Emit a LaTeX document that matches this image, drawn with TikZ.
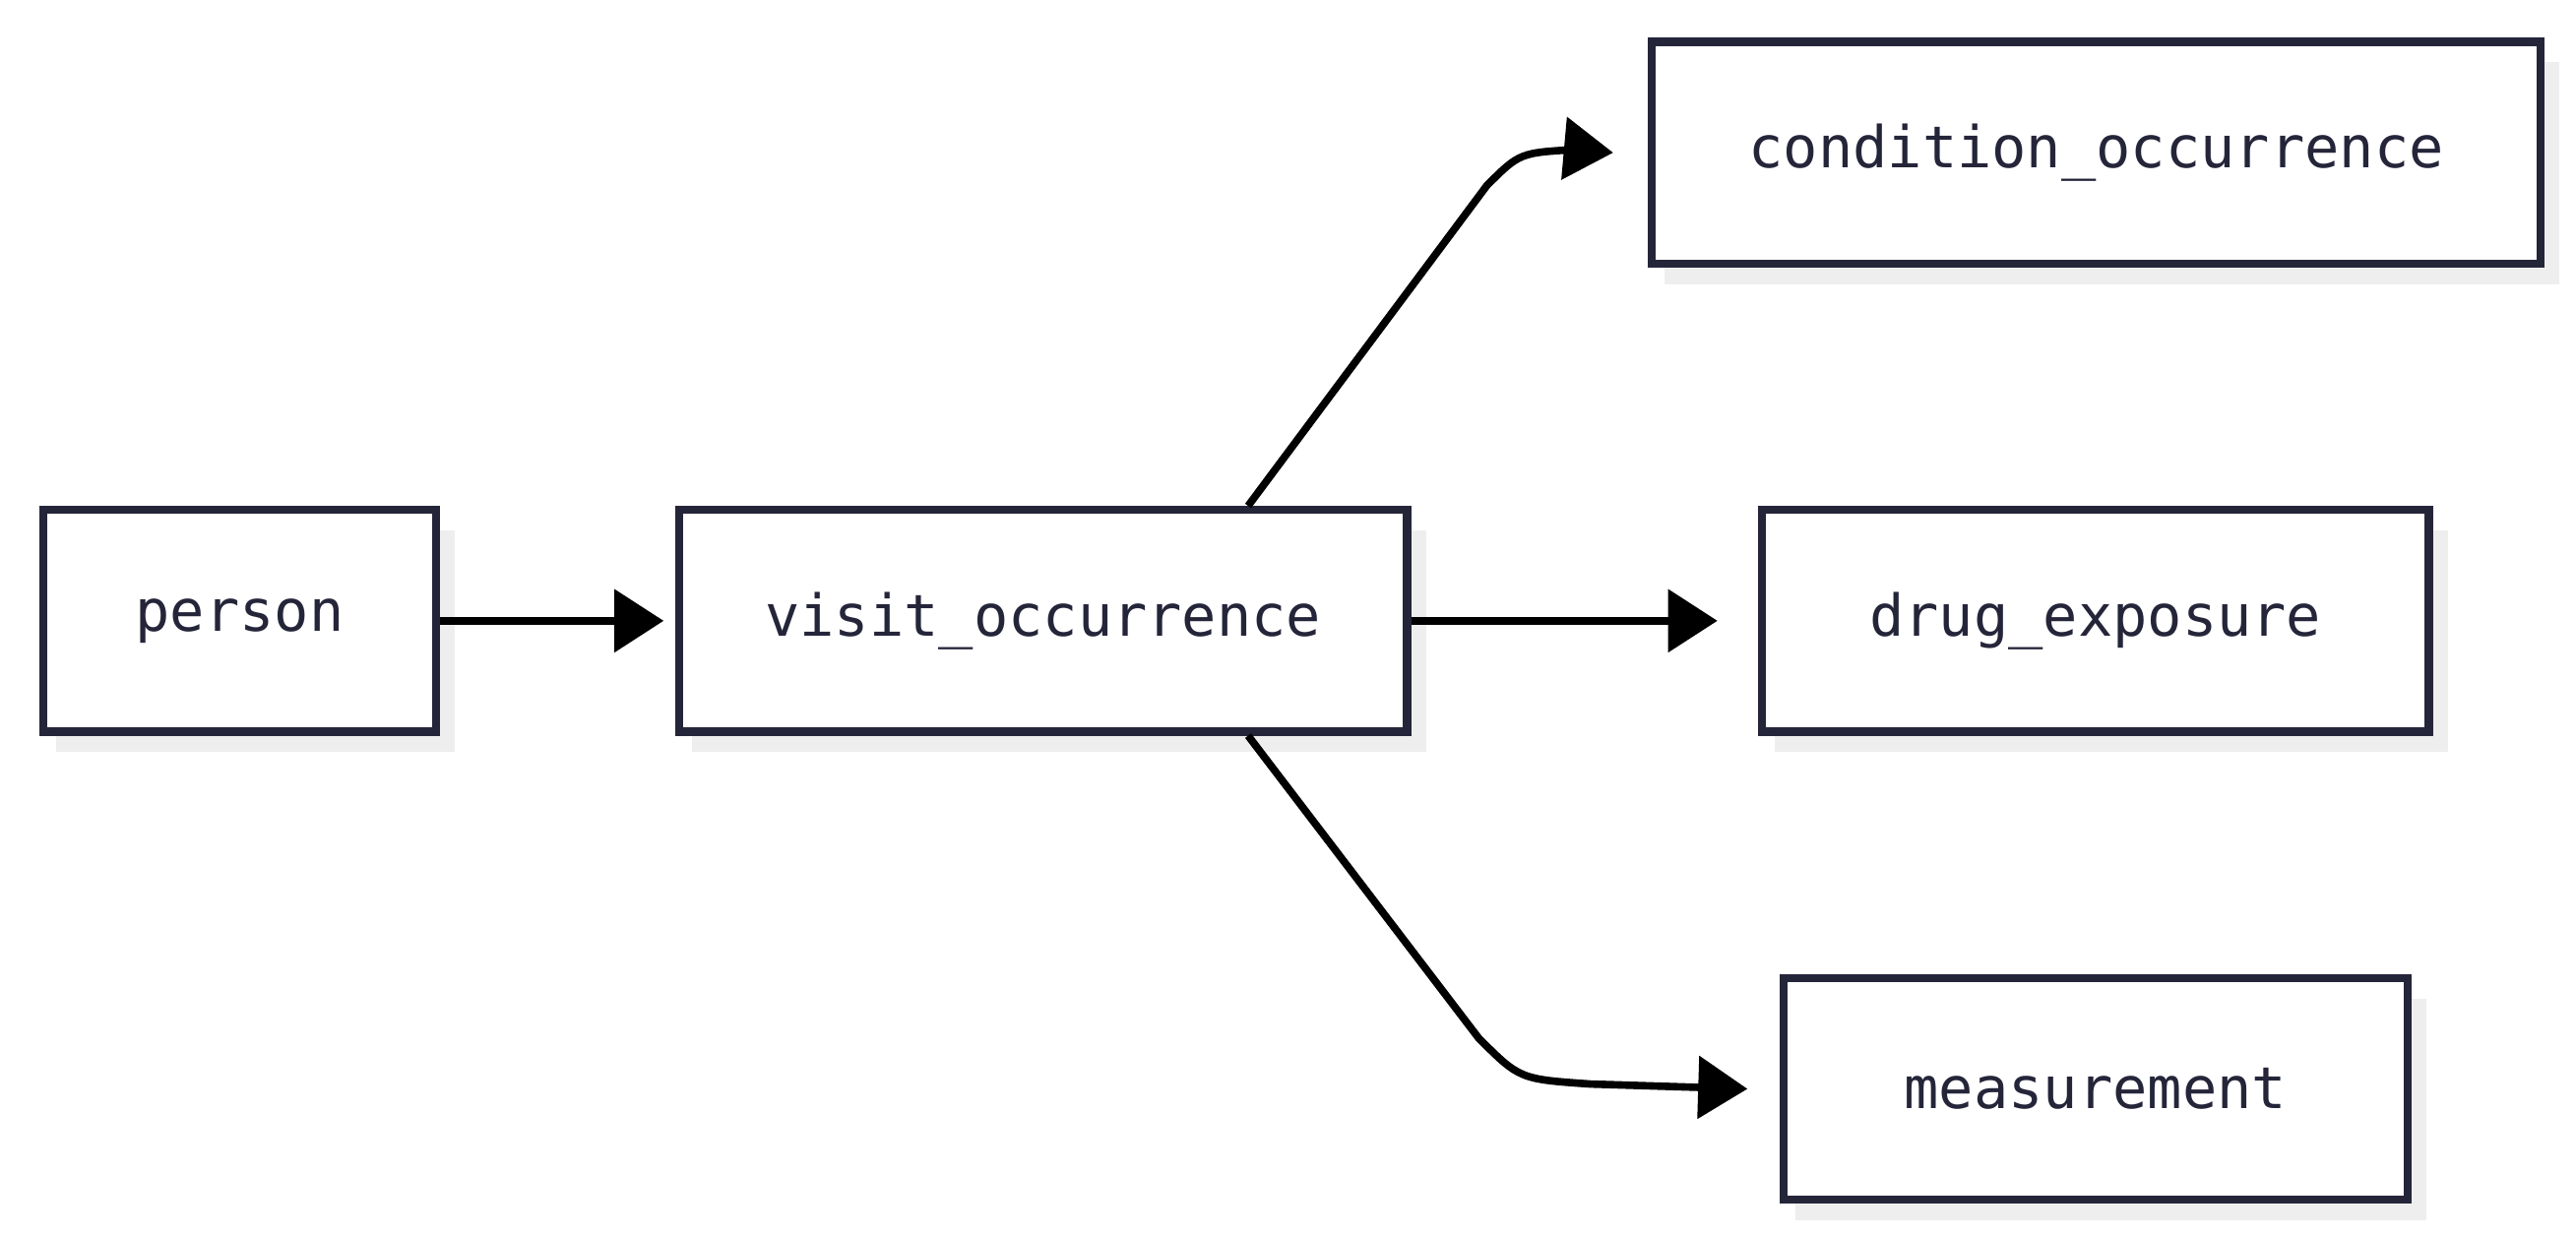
\documentclass[tikz,border=0pt]{standalone}
\usepackage{fontspec}
\setmainfont{DejaVu Sans Mono}
\usetikzlibrary{arrows.meta}
\definecolor{ink}{HTML}{25253A}
\definecolor{shadowgray}{HTML}{EEEEEE}
\begin{document}
\begin{tikzpicture}[x=0.02cm,y=-0.02cm,
  box/.style={draw=ink,line width=2.8pt,fill=white,text=ink,font=\fontsize{20}{24}\selectfont,inner sep=0pt},
  conn/.style={line width=2.6pt,-{Triangle[length=0.6cm,width=0.75cm]}}]
\useasboundingbox (0,0) rectangle (1568,752);
\newcommand{\mybox}[6]{%
  \fill[shadowgray] (#2+10,#3+15) rectangle (#4+14,#5+15);
  \node[box,minimum width={(#4-#2)*0.02cm},minimum height={(#5-#3)*0.02cm},anchor=north west] (#1) at (#2,#3) {#6};}
\mybox{person}{24}{308}{263}{443}{person}
\mybox{visit}{411}{308}{854}{443}{visit\_occurrence}
\mybox{cond}{1003}{23}{1544}{158}{condition\_occurrence}
\mybox{drug}{1070}{308}{1476}{443}{drug\_exposure}
\mybox{meas}{1083}{593}{1463}{728}{measurement}
\draw[conn] (person.east) -- ([xshift=-4]visit.west);
\draw[conn] (visit.east) -- ([xshift=-14]drug.west);
\draw[conn] ([xshift=71]visit.north) -- (905,113) .. controls (925,93) .. (960,91) -- ([xshift=-12]cond.west);
\draw[conn] ([xshift=71]visit.south) -- (900,632) .. controls (925,657) .. (968,660) -- ([xshift=-11]meas.west);
\end{tikzpicture}
\end{document}
